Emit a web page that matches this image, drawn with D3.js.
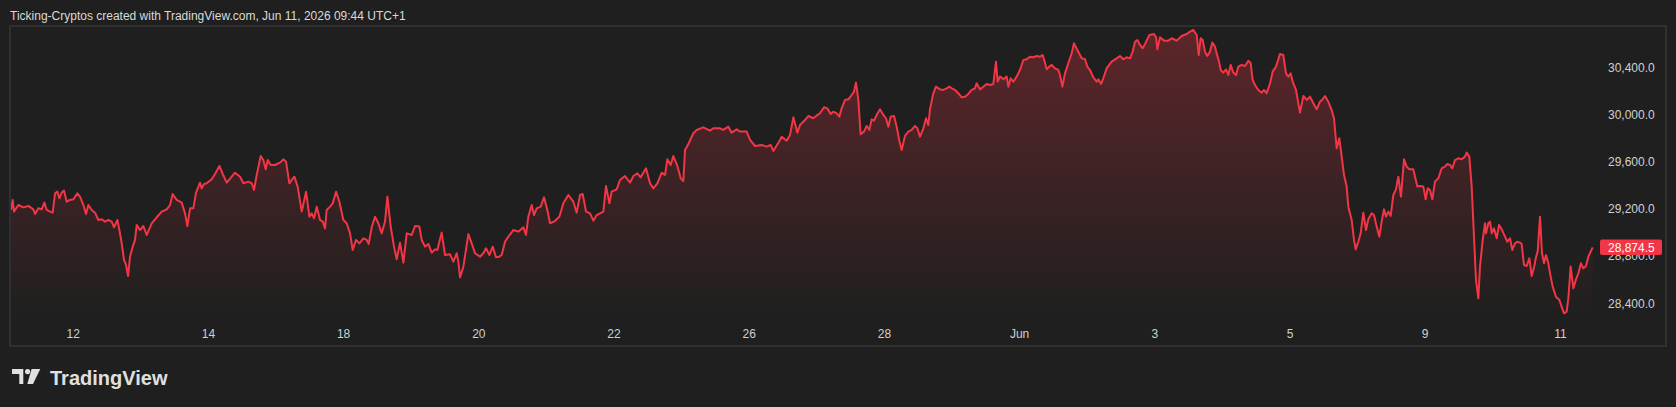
<!DOCTYPE html>
<html lang="en">
<head>
  <meta charset="UTF-8">
  <title>Ticking-Cryptos</title>
  <style>
    html, body { margin: 0; background: #1f1f1f; }
    svg { display: block; }
    .hdr { font: 12px "Liberation Sans", Arial, sans-serif; fill: #dadada; }
    .axis text { font: 12px "Liberation Sans", Arial, sans-serif; fill: #d0d0d0; }
    .axis path, .axis line { display: none; }
  </style>
</head>
<body>
  <svg width="1676" height="407"></svg>

  <script src="https://d3js.org/d3.v7.min.js"></script>
  <script>
    // time is in trading days, 0 = start of May 12 (weekends skipped)
    const weekMay11 = [[-0.912,29191],[-0.888,29275],[-0.868,29177],[-0.804,29233],[-0.730,29213],[-0.656,29225],[-0.582,29196],[-0.557,29157],[-0.508,29205],[-0.459,29196],[-0.419,29253],[-0.385,29191],[-0.335,29177],[-0.296,29168],[-0.261,29332],[-0.227,29346],[-0.197,29290],[-0.163,29338],[-0.128,29355],[-0.089,29261],[-0.040,29276],[0.010,29281],[0.069,29332],[0.108,29304],[0.158,29233],[0.197,29157],[0.232,29233],[0.281,29191],[0.330,29168],[0.380,29106],[0.429,29112],[0.478,29092],[0.528,29106],[0.577,29092],[0.611,29044],[0.661,29106],[0.700,28993],[0.725,28908],[0.759,28767],[0.789,28725],[0.819,28631],[0.848,28795],[0.888,28880],[0.922,28937],[0.947,29064],[0.996,29021],[1.045,29055],[1.095,28979],[1.169,29078],[1.243,29129],[1.317,29177],[1.391,29196],[1.440,29233],[1.479,29326],[1.538,29276],[1.612,29253],[1.662,29162],[1.696,29055],[1.736,29205],[1.785,29205],[1.824,29338],[1.884,29422],[1.908,29374],[1.943,29411],[1.982,29417],[2.056,29451],[2.105,29496],[2.170,29564],[2.219,29496],[2.278,29422],[2.352,29473],[2.401,29507],[2.475,29473],[2.525,29417],[2.599,29431],[2.648,29417],[2.682,29360],[2.722,29487],[2.781,29648],[2.820,29614],[2.855,29535],[2.885,29614],[2.929,29572],[2.993,29572],[3.067,29592],[3.116,29620],[3.156,29600],[3.205,29417],[3.240,29445],[3.279,29473],[3.328,29389],[3.388,29177],[3.452,29346],[3.501,29134],[3.536,29162],[3.570,29120],[3.610,29219],[3.659,29106],[3.698,29092],[3.733,29035],[3.757,29191],[3.807,29219],[3.846,29247],[3.896,29346],[3.945,29261]];

    const weekMay18 = [[4.004,29106],[4.053,29078],[4.103,28993],[4.142,28852],[4.191,28937],[4.241,28908],[4.300,28951],[4.349,28937],[4.379,28903],[4.423,29044],[4.472,29134],[4.522,29078],[4.571,28993],[4.620,29092],[4.655,29304],[4.704,29050],[4.753,28880],[4.793,28773],[4.842,28914],[4.892,28744],[4.941,28993],[5.015,28979],[5.064,29055],[5.128,29050],[5.163,28937],[5.212,28880],[5.261,28903],[5.310,28829],[5.360,28857],[5.394,28852],[5.458,28999],[5.508,28809],[5.582,28815],[5.631,28753],[5.680,28824],[5.705,28753],[5.730,28620],[5.779,28710],[5.853,28987],[5.902,28908],[5.952,28824],[6.025,28795],[6.075,28824],[6.114,28866],[6.164,28809],[6.213,28880],[6.262,28790],[6.311,28795],[6.346,28809],[6.395,28922],[6.445,28965],[6.519,29021],[6.593,29007],[6.666,29044],[6.706,28979],[6.740,29134],[6.790,29233],[6.824,29148],[6.864,29205],[6.923,29219],[6.972,29298],[7.021,29191],[7.061,29078],[7.120,29092],[7.199,29134],[7.258,29247],[7.332,29318],[7.406,29261],[7.455,29168],[7.505,29318],[7.544,29326],[7.594,29177],[7.653,29162],[7.702,29100],[7.751,29148],[7.801,29162],[7.850,29177],[7.889,29394],[7.939,29247],[7.973,29346],[8.047,29366],[8.096,29445],[8.170,29479],[8.244,29422],[8.294,29479],[8.353,29501],[8.402,29468],[8.481,29544],[8.540,29417],[8.590,29374],[8.649,29417],[8.713,29507],[8.762,29487],[8.797,29620],[8.846,29572],[8.885,29648],[8.945,29564],[8.994,29459]];

    const weekMay25 = [[9.033,29437],[9.058,29699],[9.107,29750],[9.181,29841],[9.231,29869],[9.329,29891],[9.428,29863],[9.477,29883],[9.576,29883],[9.625,29869],[9.699,29897],[9.748,29846],[9.822,29874],[9.872,29855],[9.970,29855],[10.020,29784],[10.094,29733],[10.192,29742],[10.266,29728],[10.325,29742],[10.365,29691],[10.463,29784],[10.488,29812],[10.562,29778],[10.611,29826],[10.661,29976],[10.720,29846],[10.759,29911],[10.833,29954],[10.882,29987],[10.956,29968],[11.030,30002],[11.055,30010],[11.114,30061],[11.163,30052],[11.213,30004],[11.252,30024],[11.301,30010],[11.341,29982],[11.375,30052],[11.425,30123],[11.474,30129],[11.523,30165],[11.558,30194],[11.587,30270],[11.622,30123],[11.656,29832],[11.706,29855],[11.745,29903],[11.785,29869],[11.819,29959],[11.854,29948],[11.893,29996],[11.942,30044],[11.992,29996],[12.031,29968],[12.066,29897],[12.100,29982],[12.150,29987],[12.189,29897],[12.228,29778],[12.263,29699],[12.312,29818],[12.362,29855],[12.411,29869],[12.460,29903],[12.495,29883],[12.534,29812],[12.584,29883],[12.623,29968],[12.657,29911],[12.682,30044],[12.731,30180],[12.771,30236],[12.830,30213],[12.879,30208],[12.929,30222],[12.968,30236],[13.003,30222],[13.052,30208],[13.101,30180],[13.151,30146],[13.200,30151],[13.249,30174],[13.298,30208],[13.348,30222],[13.372,30264],[13.422,30213],[13.471,30236],[13.520,30259],[13.570,30250],[13.619,30259],[13.658,30448],[13.683,30278],[13.718,30321],[13.767,30298],[13.816,30321],[13.841,30236],[13.875,30307],[13.915,30278],[13.964,30321]];

    const weekJun1 = [[14.013,30377],[14.063,30462],[14.112,30468],[14.161,30490],[14.211,30485],[14.260,30496],[14.309,30490],[14.349,30504],[14.383,30439],[14.408,30383],[14.447,30406],[14.482,30420],[14.531,30391],[14.581,30377],[14.605,30335],[14.640,30236],[14.679,30349],[14.728,30434],[14.778,30518],[14.812,30603],[14.862,30547],[14.926,30476],[14.975,30468],[15.009,30406],[15.049,30377],[15.098,30315],[15.148,30278],[15.172,30298],[15.212,30259],[15.246,30307],[15.295,30391],[15.369,30448],[15.443,30476],[15.493,30496],[15.542,30468],[15.591,30485],[15.641,30476],[15.680,30533],[15.715,30617],[15.749,30631],[15.789,30589],[15.828,30561],[15.863,30598],[15.927,30674],[15.996,30682],[16.026,30654],[16.045,30552],[16.084,30654],[16.144,30626],[16.208,30626],[16.257,30646],[16.331,30626],[16.405,30665],[16.479,30682],[16.528,30702],[16.578,30716],[16.627,30674],[16.657,30504],[16.686,30646],[16.715,30631],[16.750,30533],[16.784,30496],[16.824,30533],[16.858,30609],[16.898,30575],[16.923,30518],[16.957,30448],[16.982,30377],[17.021,30355],[17.061,30383],[17.095,30335],[17.130,30420],[17.169,30355],[17.209,30335],[17.243,30406],[17.292,30420],[17.342,30411],[17.391,30456],[17.426,30434],[17.455,30293],[17.490,30250],[17.539,30208],[17.588,30185],[17.623,30208],[17.662,30180],[17.712,30264],[17.751,30363],[17.800,30406],[17.859,30513],[17.909,30504],[17.948,30349],[17.983,30321],[18.017,30349],[18.047,30278],[18.096,30208],[18.155,30016],[18.205,30157],[18.254,30123],[18.303,30151],[18.353,30095],[18.402,30044],[18.451,30109],[18.491,30129],[18.525,30157],[18.574,30109],[18.624,30038],[18.658,29968],[18.698,29713],[18.737,29798],[18.772,29643],[18.806,29487],[18.846,29389],[18.870,29219],[18.920,29106],[18.954,28937],[18.979,28857]];

    const weekJun8 = [[19.018,28922],[19.053,28993],[19.092,29168],[19.132,29021],[19.166,29112],[19.215,29162],[19.250,29148],[19.289,29050],[19.329,28965],[19.363,29092],[19.398,29196],[19.428,29134],[19.462,29177],[19.497,29140],[19.536,29318],[19.575,29366],[19.610,29473],[19.649,29304],[19.694,29620],[19.733,29558],[19.773,29535],[19.832,29535],[19.857,29473],[19.891,29389],[19.930,29394],[19.980,29389],[20.014,29281],[20.044,29374],[20.078,29360],[20.113,29281],[20.152,29431],[20.202,29459],[20.251,29544],[20.300,29558],[20.335,29581],[20.374,29572],[20.409,29544],[20.448,29614],[20.497,29629],[20.547,29620],[20.596,29643],[20.621,29677],[20.660,29643],[20.695,29389],[20.729,28965],[20.759,28597],[20.793,28442],[20.818,28711],[20.858,28937],[20.892,29078],[20.907,28993],[20.941,29078],[20.966,29092],[20.991,28993],[21.025,29035],[21.065,28951],[21.099,29064],[21.139,29027],[21.188,28965],[21.223,28922],[21.262,28951],[21.296,28852],[21.336,28908],[21.370,28922],[21.410,28914],[21.434,28903],[21.469,28725],[21.508,28716],[21.548,28781],[21.582,28631],[21.622,28716],[21.646,28790],[21.671,28838],[21.706,29134],[21.735,28824],[21.765,28739],[21.794,28809],[21.829,28739],[21.854,28654],[21.893,28541],[21.942,28456],[21.992,28428],[22.026,28372],[22.061,28315],[22.100,28329],[22.125,28442],[22.159,28711],[22.199,28527],[22.238,28603],[22.273,28654],[22.312,28739],[22.347,28696],[22.386,28716],[22.421,28795],[22.455,28838],[22.485,28874.5]];

    const xTickDays = [0, 2, 4, 6, 8, 10, 12, 14, 16, 18, 20, 22];
    const xTickLabels = ["12", "14", "18", "20", "22", "26", "28", "Jun", "3", "5", "9", "11"];
    const yTicks = [28400, 28800, 29200, 29600, 30000, 30400];

    const series = [].concat(weekMay11, weekMay18, weekMay25, weekJun1, weekJun8);
    const lastPrice = series[series.length - 1][1];

    const red = "#f23645";
    const svg = d3.select("svg");

    const paneTop = 27, paneBottom = 318, paneLeft = 11, paneRight = 1598;

    const x = d3.scaleLinear().domain([0, 22]).range([72.7, 1559.9]);
    const y = d3.scaleLinear().domain([28400, 30400]).range([303.3, 67.3]);

    // header
    svg.append("text")
      .attr("class", "hdr")
      .attr("x", 10)
      .attr("y", 19.5)
      .text("Ticking-Cryptos created with TradingView.com, Jun 11, 2026 09:44 UTC+1");

    // frame
    svg.append("rect")
      .attr("x", 10).attr("y", 26)
      .attr("width", 1656).attr("height", 320)
      .attr("fill", "none")
      .attr("stroke", "#2f2f2f")
      .attr("stroke-width", 2);

    const defs = svg.append("defs");
    defs.append("clipPath").attr("id", "pane")
      .append("rect")
      .attr("x", paneLeft).attr("y", paneTop)
      .attr("width", paneRight - paneLeft).attr("height", paneBottom - paneTop);

    const grad = defs.append("linearGradient")
      .attr("id", "fillGrad")
      .attr("gradientUnits", "userSpaceOnUse")
      .attr("x1", 0).attr("y1", paneTop)
      .attr("x2", 0).attr("y2", paneBottom);
    grad.append("stop").attr("offset", 0).attr("stop-color", red).attr("stop-opacity", 0.3);
    grad.append("stop").attr("offset", 1).attr("stop-color", red).attr("stop-opacity", 0);

    const area = d3.area()
      .x(d => x(d[0]))
      .y0(paneBottom)
      .y1(d => y(d[1]));

    const line = d3.line()
      .x(d => x(d[0]))
      .y(d => y(d[1]));

    const plot = svg.append("g").attr("clip-path", "url(#pane)");

    plot.append("path")
      .datum(series)
      .attr("d", area)
      .attr("fill", "url(#fillGrad)");

    plot.append("path")
      .datum(series)
      .attr("d", line)
      .attr("fill", "none")
      .attr("stroke", red)
      .attr("stroke-width", 2)
      .attr("stroke-linejoin", "round");

    // price scale
    svg.append("g")
      .attr("class", "axis")
      .attr("transform", "translate(1608,0)")
      .call(d3.axisRight(y)
        .tickValues(yTicks)
        .tickSize(0)
        .tickPadding(0)
        .tickFormat(d3.format(",.1f")));

    // time scale
    svg.append("g")
      .attr("class", "axis")
      .attr("transform", "translate(0,326)")
      .call(d3.axisBottom(x)
        .tickValues(xTickDays)
        .tickSize(0)
        .tickPadding(3)
        .tickFormat((d, i) => xTickLabels[i]));

    // last price label
    const ly = y(lastPrice);
    svg.append("rect")
      .attr("x", 1600).attr("y", ly - 7.8)
      .attr("width", 62).attr("height", 15.6)
      .attr("rx", 2)
      .attr("fill", red);
    svg.append("text")
      .attr("x", 1608).attr("y", ly)
      .attr("dy", "0.36em")
      .attr("fill", "#ffffff")
      .style("font", "12px 'Liberation Sans', Arial, sans-serif")
      .text(d3.format(",.1f")(lastPrice));

    // TradingView logo
    const logo = svg.append("g").attr("transform", "translate(12,369)").attr("fill", "#e0e0e0");
    logo.append("path").attr("d", "M0,0 H11.3 V15 H7.3 V5 H0 Z");
    logo.append("circle").attr("cx", 15.6).attr("cy", 2.6).attr("r", 2.6);
    logo.append("path").attr("d", "M19.6,0 H28.3 L21,15 H15.3 Z");
    svg.append("text")
      .attr("x", 50).attr("y", 384.5)
      .attr("fill", "#e0e0e0")
      .style("font", "bold 20px 'Liberation Sans', Arial, sans-serif")
      .text("TradingView");
  </script>
</body>
</html>
